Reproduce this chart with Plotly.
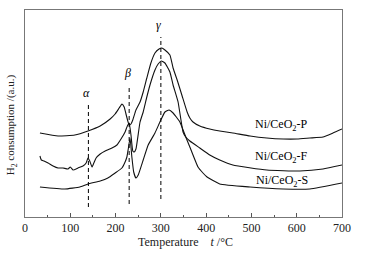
import plotly.graph_objects as go

# Temperature (°C) and H2 consumption (a.u.)
p_temp = [33, 73, 110, 139, 166, 188, 199, 208, 214, 219, 223, 227, 230, 234, 238, 245, 254, 261, 269, 278, 287, 296, 302, 309, 320, 327, 336, 347, 358, 364, 371, 386, 408, 430, 459, 497, 534, 570, 601, 629, 658, 680, 700]
p_val = [84, 81, 82, 86, 91, 98, 103, 109, 113, 110, 103, 96, 92, 93, 97, 107, 115, 125, 139, 154, 164, 168, 169, 167, 162, 149, 137, 121, 105, 99, 95, 91, 88, 86, 84, 81, 79, 78, 78, 79, 80, 84, 88]

f_temp = [33, 36, 42, 51, 62, 73, 84, 95, 100, 106, 117, 128, 135, 139, 143, 148, 152, 157, 166, 177, 192, 203, 212, 221, 226, 230, 234, 238, 241, 245, 254, 261, 269, 276, 287, 294, 301, 309, 320, 327, 338, 349, 355, 364, 386, 408, 430, 459, 534, 607, 658, 700]
f_val = [61, 57, 56, 54, 51, 49, 49, 48, 50, 47, 49, 51, 54, 59, 56, 50, 54, 59, 63, 66, 69, 72, 78, 85, 91, 94, 82, 66, 65, 68, 95, 105, 120, 132, 147, 153, 156, 154, 145, 132, 115, 85, 80, 76, 69, 62, 57, 52, 47, 46, 48, 52]

s_temp = [33, 88, 121, 139, 166, 183, 199, 214, 221, 225, 228, 232, 236, 240, 245, 250, 261, 272, 287, 298, 309, 318, 327, 342, 355, 364, 382, 393, 402, 430, 497, 570, 629, 700]
s_val = [30, 28, 30, 33, 36, 39, 44, 49, 55, 60, 68, 79, 60, 45, 39, 42, 57, 72, 84, 95, 105, 107, 104, 95, 80, 70, 50, 44, 40, 33, 30, 28, 28, 34]

series_names = ["Ni/CeO<sub>2</sub>-P", "Ni/CeO<sub>2</sub>-F", "Ni/CeO<sub>2</sub>-S"]
label_temp = 567
label_vals = [92, 60, 36]

peak_temps = [140, 230, 300]
peak_names = ["α", "β", "γ"]
line_bottoms = [10, 13, 18]
line_tops = [112, 132, 180]

x_ticks = [0, 100, 200, 300, 400, 500, 600, 700]

SERIF = "Liberation Serif"

fig = go.Figure()
for t, v in [(p_temp, p_val), (f_temp, f_val), (s_temp, s_val)]:
    fig.add_trace(go.Scatter(x=t, y=v, mode="lines",
                             line=dict(color="#111", width=1.1, shape="spline", smoothing=0.4),
                             showlegend=False, hoverinfo="skip"))

for t, b, top, name in zip(peak_temps, line_bottoms, line_tops, peak_names):
    fig.add_trace(go.Scatter(x=[t, t], y=[b, top], mode="lines",
                             line=dict(color="black", width=1, dash="4px,3px"),
                             showlegend=False, hoverinfo="skip"))
    fig.add_annotation(x=t, y=top, text="<i>" + name + "</i>", showarrow=False,
                       yanchor="bottom", yshift=3, xshift=-2,
                       font=dict(family=SERIF, size=12, color="black"))

for name, v in zip(series_names, label_vals):
    fig.add_annotation(x=label_temp, y=v, text=name, showarrow=False,
                       font=dict(family=SERIF, size=12, color="black"))

fig.add_annotation(xref="paper", yref="paper", x=-0.043, y=0.445,
                   text="H<sub>2</sub> consumption /(a.u.)", textangle=-90,
                   showarrow=False, xanchor="center", yanchor="middle",
                   font=dict(family=SERIF, size=11, color="#222"))
fig.add_annotation(xref="paper", yref="paper", x=0.505, y=0, yshift=-25,
                   xanchor="center", yanchor="middle",
                   text="Temperature    <i>t</i> /°C", showarrow=False,
                   font=dict(family=SERIF, size=12, color="#222"))

fig.update_xaxes(range=[0, 700], tickvals=x_ticks, ticks="inside", ticklen=4,
                 tickcolor="#555", showgrid=False, zeroline=False,
                 showline=True, linecolor="#777", linewidth=1, mirror=True,
                 tickfont=dict(family=SERIF, size=12, color="#222"),
                 minor=dict(dtick=50, ticks="inside", ticklen=2, tickcolor="#555"))
fig.update_yaxes(range=[0, 207], showticklabels=False, ticks="", showgrid=False,
                 zeroline=False, showline=True, linecolor="#777", linewidth=1, mirror=True)

fig.update_layout(width=388, height=260, margin=dict(l=25, r=46, t=10, b=43),
                  plot_bgcolor="white", paper_bgcolor="white")
# remove the browser's default 8px body margin so the figure fills the window
fig.write_html("out.html", config={"displayModeBar": False},
               post_script="document.body.style.margin='0px';")
